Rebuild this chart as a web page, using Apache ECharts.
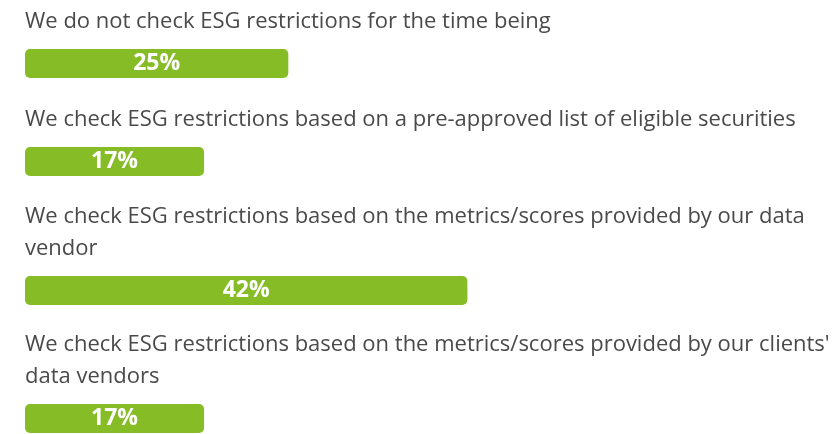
<!DOCTYPE html>
<html>
<head>
<meta charset="utf-8">
<script src="https://cdn.jsdelivr.net/npm/echarts@6/dist/echarts.min.js"></script>
<style>
  html, body { margin: 0; padding: 0; background: #ffffff; }
  #chart { width: 836px; height: 434px; }
</style>
</head>
<body>
<div id="chart"></div>
<script>
// Survey answers and their shares (%)
const categories = [
  "We do not check ESG restrictions for the time being",
  "We check ESG restrictions based on a pre-approved list of eligible securities",
  "We check ESG restrictions based on the metrics/scores provided by our data vendor",
  "We check ESG restrictions based on the metrics/scores provided by our clients' data vendors"
];
const values = [25, 17, 42, 17];

// Layout: each answer gets its own strip (question text above, bar below)
const barTop = [49, 147, 276, 404];
const barHeight = 29;
const FONT = "'Open Sans', 'Noto Sans', sans-serif";
const GREEN = "#86bc25";
const TEXT = "#4a4a4a";

const grids = [], xAxes = [], yAxes = [], series = [];
categories.forEach((name, i) => {
  grids.push({
    left: 25, width: 790, top: barTop[i], height: barHeight,
    outerBoundsMode: "none", containLabel: false
  });
  xAxes.push({
    gridIndex: i, type: "value", min: 0, max: 75, show: false
  });
  yAxes.push({
    gridIndex: i, type: "category", data: [name],
    axisLine: { show: false }, axisTick: { show: false },
    axisLabel: {
      inside: true, margin: 0, align: "left", verticalAlign: "bottom",
      width: 820, overflow: "break",
      fontFamily: FONT, fontSize: 22, lineHeight: 32, color: TEXT,
      padding: [0, 0, 26, 0]
    }
  });
  series.push({
    type: "bar", xAxisIndex: i, yAxisIndex: i,
    data: [values[i]], barWidth: barHeight,
    itemStyle: { color: GREEN, borderRadius: 5 },
    label: {
      show: true, position: "inside", formatter: "{c}%",
      color: "#ffffff", fontFamily: FONT, fontWeight: "bold", fontSize: 23
    }
  });
});

const chart = echarts.init(document.getElementById("chart"));
chart.setOption({
  animation: false,
  backgroundColor: "#ffffff",
  grid: grids, xAxis: xAxes, yAxis: yAxes, series: series
});
</script>
</body>
</html>
